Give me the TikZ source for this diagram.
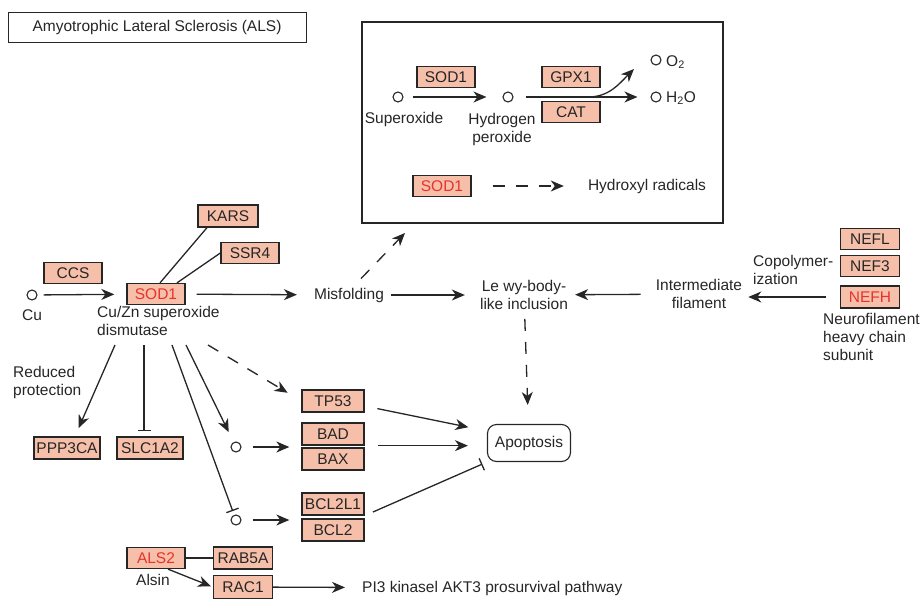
\documentclass[tikz,border=0pt]{standalone}
\usepackage{fontspec}
\setmainfont{Liberation Sans}
\usetikzlibrary{arrows.meta,positioning}
\definecolor{genefill}{HTML}{F6BFA9}
\definecolor{genered}{HTML}{E8322B}
\definecolor{ink}{HTML}{262626}

\begin{document}
\begin{tikzpicture}[x=1pt,y=-1pt,
        every node/.style={font=\fontsize{15.5}{18}\selectfont, text=ink},
        gene/.style={draw=ink, line width=1.3pt, fill=genefill, minimum width=58pt, minimum height=21pt, inner sep=0pt},
        mut/.style={gene, text=genered},
        cpd/.style={circle, draw=ink, line width=1.1pt, minimum size=10pt, inner sep=0pt},
        lbl/.style={align=center, inner sep=0pt},
        act/.style={draw=ink, line width=1.3pt, -{Stealth[length=13pt,width=11pt,inset=4pt]}},
        inh/.style={draw=ink, line width=1.3pt, -{Bar[width=13pt,line width=1.3pt]}},
        dashact/.style={act, dash pattern=on 12pt off 11pt},
        link/.style={draw=ink, line width=1.3pt}]
    \useasboundingbox (0,0) rectangle (922,600);

    \node[draw=ink, line width=1pt, minimum width=298pt, minimum height=30pt, inner sep=0pt] (title) at (157,27) {Amyotrophic Lateral Sclerosis (ALS)};

    % oxidative stress panel
    \node[draw=ink, line width=1.3pt, minimum width=361pt, minimum height=201pt] (ros_box) at (542.5,122.5) {};
    \node[cpd] (c_sup) at (398,97) {};
    \node[lbl] (superoxide) at (404,119) {Superoxide};
    \node[gene] (sod_a) at (446,77) {SOD1};
    \node[cpd] (c_hp) at (508,97) {};
    \node[lbl] (hperox) at (502,129) {Hydrogen\\peroxide};
    \node[gene] (gpx_1) at (571,77) {GPX1};
    \node[gene] (cat) at (571,112) {CAT};
    \node[cpd] (c_o2) at (656,60) {};
    \node[lbl, anchor=west] (o2) at (666,62) {O\textsubscript{2}};
    \node[cpd] (c_h2o) at (656,97) {};
    \node[lbl, anchor=west] (h2o) at (666,98) {H\textsubscript{2}O};
    \coordinate (split) at (588,97);
    \coordinate (o2_in) at (634,69);
    \node[mut] (sod_r) at (442,186) {SOD1};
    \node[lbl] (hydroxyl) at (647,186) {Hydroxyl radicals};

    \draw[act, shorten <=9pt, shorten >=16pt] (c_sup) -- (c_hp);
    \draw[act, shorten <=12pt, shorten >=13pt] (c_hp) -- (c_h2o);
    \draw[act] (split) to[out=0, in=225] (o2_in);
    \draw[dashact, shorten <=21pt, shorten >=24pt] (sod_r) -- (hydroxyl);

    % SOD1 and its partners
    \node[gene, minimum width=60pt, minimum height=22pt] (kars) at (228,216) {KARS};
    \node[gene] (ssr_4) at (250,253) {SSR4};
    \node[gene] (ccs) at (73,273) {CCS};
    \node[cpd] (c_cu) at (32,295) {};
    \node[lbl] (cu) at (32,315) {Cu};
    \node[mut] (sod_1) at (156,294) {SOD1};
    \node[lbl, align=left, anchor=north west] (dismutase) at (97,306) {Cu/Zn superoxide\\dismutase};

    \draw[act, shorten <=6pt, shorten >=12pt] (c_cu) -- (sod_1);
    \draw[link] ([xshift=4pt]sod_1.north) -- ([xshift=-21pt]kars.south);
    \draw[link] ([xshift=21pt]sod_1.north) -- (ssr_4.west);

    \node[lbl] (misfolding) at (349,295) {Misfolding};
    \node[lbl] (lewy) at (524,295) {Le wy-body-\\like inclusion};
    \node[lbl] (interm) at (699,294) {Intermediate\\filament};
    \node[lbl, align=left, anchor=west] (copoly) at (753,270) {Copolymer-\\ization};
    \node[gene, minimum width=59pt] (nefl) at (870,239) {NEFL};
    \node[gene, minimum width=59pt] (nef_3) at (870,266) {NEF3};
    \node[mut, minimum width=59pt, minimum height=22pt] (nefh) at (870,297) {NEFH};
    \node[lbl, align=left, anchor=north west] (neurofil) at (823,313) {Neurofilament\\heavy chain\\subunit};
    \coordinate (box_in) at (405,233);

    \draw[act, shorten <=11pt, shorten >=17pt] (sod_1) -- (misfolding);
    \draw[act, shorten <=7pt, shorten >=15pt] (misfolding) -- (lewy);
    \draw[act, shorten <=15pt, shorten >=7pt] (interm) -- (lewy);
    \draw[act, shorten <=14pt, shorten >=6pt] (nefh.west) -- (nefh.west -| interm.east);
    \draw[dashact] ([xshift=12pt,yshift=9pt]misfolding.north) -- (box_in);

    % apoptosis branch
    \node[draw=ink, line width=1.1pt, rounded corners=9pt, minimum width=83pt, minimum height=37pt, inner sep=0pt] (apoptosis) at (529,443) {Apoptosis};
    \node[gene, minimum width=62pt, minimum height=22pt] (tp_53) at (333,401) {TP53};
    \node[gene, minimum width=62pt, minimum height=22pt] (bad) at (333,434) {BAD};
    \node[gene, minimum width=62pt, minimum height=22pt] (bax) at (333,459) {BAX};
    \node[gene, minimum width=62pt, minimum height=22pt] (bcl2l1) at (333,504) {BCL2L1};
    \node[gene, minimum width=62pt, minimum height=22pt] (bcl_2) at (333,530) {BCL2};
    \node[cpd] (c_bad) at (236,447) {};
    \node[cpd] (c_bcl) at (236,520) {};
    \node[lbl, align=left, anchor=north west] (reduced) at (13,366) {Reduced\\protection};
    \node[gene, minimum width=66pt, minimum height=22pt] (ppp3ca) at (67,448) {PPP3CA};
    \node[gene, minimum width=66pt, minimum height=22pt] (slc1a2) at (150,448) {SLC1A2};

    \coordinate (d_1) at (115,345);
    \coordinate (d_2) at (144,345);
    \coordinate (d_3) at (172,345);
    \coordinate (d_4) at (186,345);
    \coordinate (d_5) at (208,345);

    \draw[act, shorten >=9pt] (d_1) -- ([xshift=8pt]ppp3ca.north);
    \draw[inh, shorten >=5pt] (d_2) -- ([xshift=-6pt]slc1a2.north);
    \draw[inh, shorten >=4pt] (d_3) -- (c_bcl);
    \draw[act, shorten >=11pt] (d_4) -- (c_bad);
    \draw[dashact, shorten >=16pt] (d_5) -- (tp_53.west);
    \draw[dashact, shorten <=9pt, shorten >=19pt] (lewy) -- (apoptosis);

    \draw[act, shorten <=11pt, shorten >=12pt] (c_bad) -- (c_bad -| bad.west);
    \draw[act, shorten <=11pt, shorten >=12pt] (c_bcl) -- (c_bcl -| bcl_2.west);
    \draw[act, shorten <=13pt, shorten >=19pt] ([yshift=-5pt]tp_53.east) -- ([yshift=12pt]apoptosis.west);
    \draw[act, shorten <=13pt, shorten >=19pt] (bad.south east) -- (bad.south east -| apoptosis.west);
    \draw[inh, shorten <=9pt, shorten >=5pt] (bcl2l1.south east) -- (apoptosis.south west);

    % alsin
    \node[mut] (als_2) at (156,558) {ALS2};
    \node[gene, minimum width=59pt, minimum height=22pt] (rab5a) at (243,558) {RAB5A};
    \node[gene, minimum width=59pt, minimum height=23pt] (rac_1) at (243,587) {RAC1};
    \node[lbl] (alsin) at (153,580) {Alsin};
    \node[lbl, anchor=west] (pi3) at (362,588) {PI3 kinasel AKT3 prosurvival pathway};

    \draw[link] (als_2) -- (rab5a);
    \draw[act, shorten >=2pt] ([xshift=12pt]als_2.south) -- (rac_1.west);
    \draw[act, shorten >=17pt] (rac_1) -- (pi3);
\end{tikzpicture}
\end{document}
